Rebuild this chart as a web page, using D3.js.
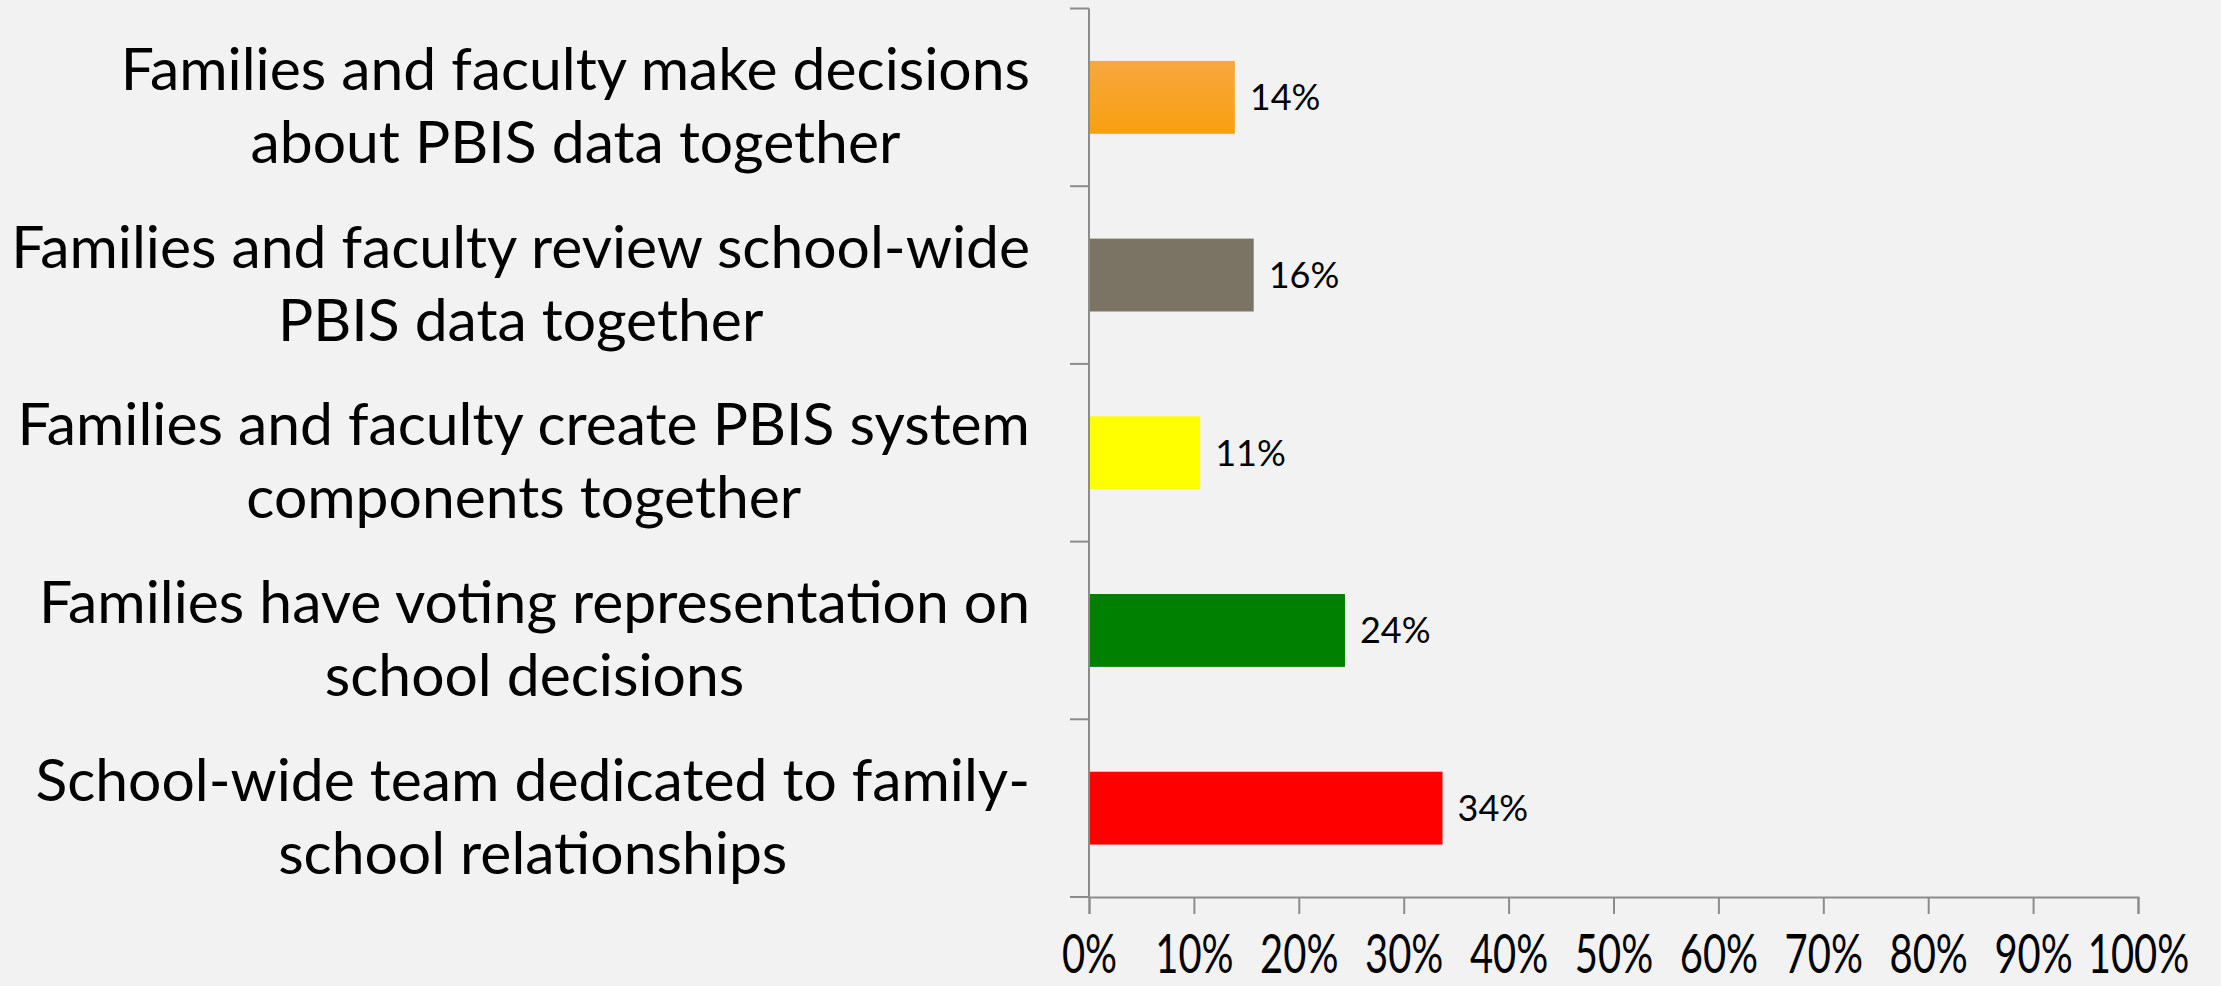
<!DOCTYPE html>
<html>
<head>
<meta charset="utf-8">
<script src="https://cdn.jsdelivr.net/npm/d3@7"></script>
<style>
  html, body { margin: 0; padding: 0; background: #f2f2f2; }
  svg { display: block; }
</style>
</head>
<body>
<div id="viz"></div>
<script>
// chart data, top to bottom
var categories = [
  ["Families and faculty make decisions", "about PBIS data together"],
  ["Families and faculty review school-wide", "PBIS data together"],
  ["Families and faculty create PBIS system", "components together"],
  ["Families have voting representation on", "school decisions"],
  ["School-wide team dedicated to family-", "school relationships"]
];
var values = [13.9, 15.7, 10.6, 24.4, 33.7];
var barColors = ["url(#orangeGrad)", "#7b7364", "#ffff00", "#008000", "#ff0000"];
var xTicks = [0, 10, 20, 30, 40, 50, 60, 70, 80, 90, 100];

var W = 2221, H = 986;
var margin = {top: 8.5, right: 83, bottom: 89, left: 1089};
var width = W - margin.left - margin.right,
    height = H - margin.top - margin.bottom;

var svgRoot = d3.select("#viz")
  .append("svg")
    .attr("width", W)
    .attr("height", H)
    .style("background", "#f2f2f2");

// orange bar has a slight vertical gradient
var grad = svgRoot.append("defs").append("linearGradient")
    .attr("id", "orangeGrad")
    .attr("x1", 0).attr("y1", 0).attr("x2", 0).attr("y2", 1);
grad.append("stop").attr("offset", "0%").attr("stop-color", "#f6a840");
grad.append("stop").attr("offset", "100%").attr("stop-color", "#f99f10");

var svg = svgRoot.append("g")
    .attr("transform", `translate(${margin.left},${margin.top})`);

var x = d3.scaleLinear()
  .domain([0, 100])
  .range([0, width]);

var y = d3.scaleBand()
  .domain(d3.range(categories.length))
  .range([0, height])
  .paddingInner(0.59)
  .paddingOuter(0.295);

var axisColor = "#8c8c8c";
var labelFont = "Lato, 'Open Sans', sans-serif";

// bars
svg.selectAll(".bar")
  .data(values)
  .enter().append("rect")
    .attr("class", "bar")
    .attr("x", x(0))
    .attr("y", function(d, i) { return y(i); })
    .attr("width", function(d) { return x(d) - x(0); })
    .attr("height", y.bandwidth())
    .attr("fill", function(d, i) { return barColors[i]; });

// value labels
svg.selectAll(".val")
  .data(values)
  .enter().append("text")
    .attr("class", "val")
    .attr("x", function(d) { return x(d) + 15; })
    .attr("y", function(d, i) { return y(i) + y.bandwidth() / 2; })
    .attr("dy", "0.36em")
    .style("font-family", labelFont)
    .style("font-size", "36px")
    .style("fill", "#000")
    .text(function(d) { return Math.round(d) + "%"; });

// y axis: line + outward ticks at band boundaries
var step = height / categories.length;
svg.append("line")
  .attr("x1", 0).attr("x2", 0)
  .attr("y1", 0).attr("y2", height)
  .attr("stroke", axisColor).attr("stroke-width", 2);
svg.selectAll(".ytick")
  .data(d3.range(categories.length + 1))
  .enter().append("line")
    .attr("class", "ytick")
    .attr("x1", -19).attr("x2", 0)
    .attr("y1", function(d) { return d * step; })
    .attr("y2", function(d) { return d * step; })
    .attr("stroke", axisColor).attr("stroke-width", 2);

// x axis
var xAxis = svg.append("g")
  .attr("transform", `translate(0,${height})`)
  .call(d3.axisBottom(x)
    .tickValues(xTicks)
    .tickSize(17)
    .tickFormat(function(d) { return d + "%"; }));
xAxis.select(".domain").attr("stroke", axisColor).attr("stroke-width", 2);
xAxis.selectAll(".tick line").attr("stroke", axisColor).attr("stroke-width", 2);
// tall, condensed tick labels
xAxis.selectAll(".tick text")
  .attr("y", 76)
  .attr("dy", null)
  .attr("transform", "scale(0.74,1)")
  .style("font-family", labelFont)
  .style("font-size", "54px")
  .style("fill", "#000");

// category labels, two lines, block right-aligned, lines centred
var labelSize = 50;
var probe = svg.append("text")
  .style("font-family", labelFont)
  .style("font-size", labelSize + "px")
  .text(categories[1][0]);
var probeW = probe.node().getComputedTextLength();
probe.remove();
labelSize = labelSize * 1019 / probeW;

var rightEdge = 1030 - margin.left;
var lineGap = 73;

categories.forEach(function(lines, i) {
  var g = svg.append("g");
  var cy = y(i) + y.bandwidth() / 2 + 8;
  var texts = lines.map(function(t, j) {
    return g.append("text")
      .attr("y", cy + (j - (lines.length - 1) / 2) * lineGap)
      .attr("dy", "0.36em")
      .attr("text-anchor", "middle")
      .style("font-family", labelFont)
      .style("font-size", labelSize + "px")
      .style("fill", "#000")
      .text(t);
  });
  var maxW = d3.max(texts, function(t) { return t.node().getComputedTextLength(); });
  texts.forEach(function(t) { t.attr("x", rightEdge - maxW / 2); });
});
</script>
</body>
</html>
